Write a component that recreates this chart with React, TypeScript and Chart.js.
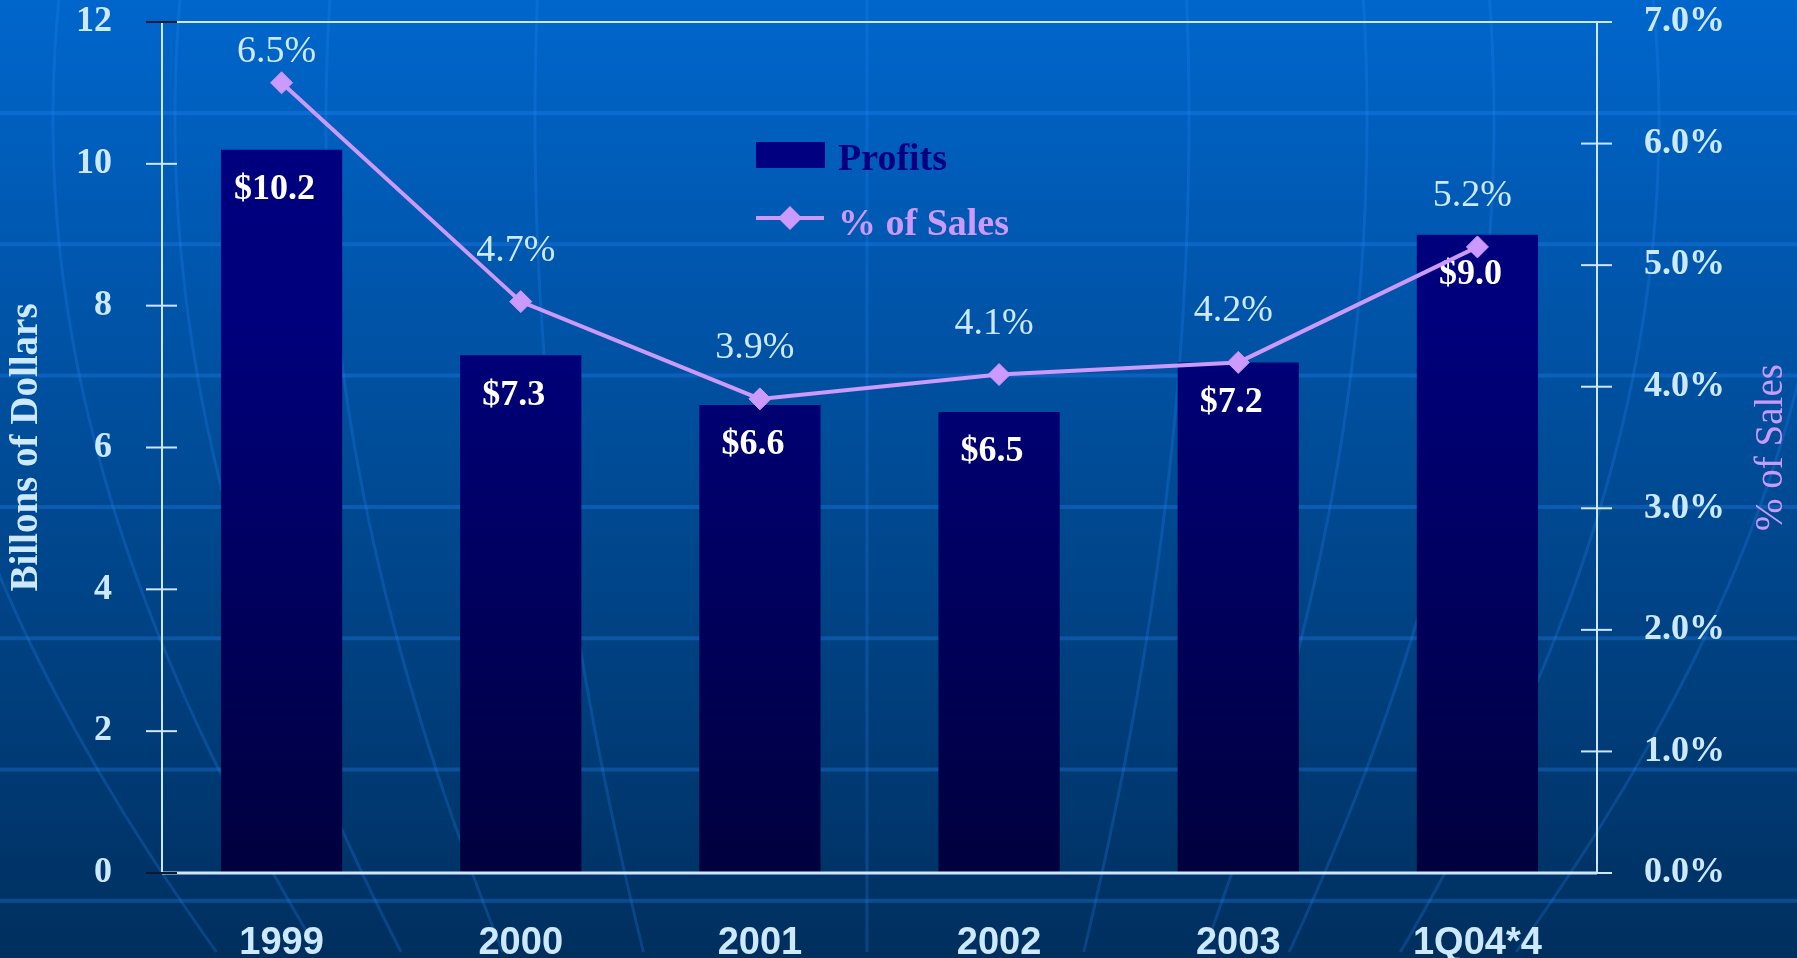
import { useEffect, useRef } from "react";
import { Chart, registerables } from "chart.js";

Chart.register(...registerables);

// ---- data ----
const categories = ["1999", "2000", "2001", "2002", "2003", "1Q04*4"];
const profits = [10.2, 7.3, 6.6, 6.5, 7.2, 9.0];
const profitLabels = ["$10.2", "$7.3", "$6.6", "$6.5", "$7.2", "$9.0"];
const pctOfSales = [6.5, 4.7, 3.9, 4.1, 4.2, 5.15];
const pctLabels = ["6.5%", "4.7%", "3.9%", "4.1%", "4.2%", "5.2%"];
const leftAxis = { min: 0, max: 12, step: 2, title: "Billons of Dollars" };
const rightAxis = { min: 0, max: 7, step: 1, title: "% of Sales" };
const seriesNames = { bars: "Profits", line: "% of Sales" };

// ---- styles ----
const LIGHT = "#CCE9FF";
const PURPLE = "#CC99FF";
const NAVY = "#000080";
const SERIF = '"Liberation Serif", "Times New Roman", serif';
const SANS = '"Liberation Sans", Arial, sans-serif';

const backgroundPlugin = {
  id: "slideBackground",
  beforeDraw(chart: any) {
    const { ctx, width, height } = chart;
    ctx.save();
    const g = ctx.createLinearGradient(0, 0, 0, height);
    g.addColorStop(0, "#0066CC");
    g.addColorStop(1, "#002F5E");
    ctx.fillStyle = g;
    ctx.fillRect(0, 0, width, height);
    // horizontal bands
    ctx.strokeStyle = "rgba(40,140,255,0.28)";
    ctx.lineWidth = 4;
    for (let y = 113; y < height; y += 131.3) {
      ctx.beginPath();
      ctx.moveTo(0, y);
      ctx.lineTo(width, y);
      ctx.stroke();
    }
    // globe meridians
    const x0 = 867;
    const spreads = [-966, -814, -692, -541, -332, 0, 322, 500, 627, 792, 964];
    ctx.strokeStyle = "rgba(40,140,255,0.22)";
    ctx.lineWidth = 3;
    spreads.forEach((s) => {
      ctx.beginPath();
      for (let y = 0; y <= height; y += 8) {
        const x = x0 + s * Math.cos((y - 120) / 1000);
        if (y === 0) ctx.moveTo(x, y);
        else ctx.lineTo(x, y);
      }
      ctx.stroke();
    });
    ctx.restore();
  },
};

function line(ctx: any, x1: number, y1: number, x2: number, y2: number) {
  ctx.beginPath();
  ctx.moveTo(x1, y1);
  ctx.lineTo(x2, y2);
  ctx.stroke();
}

const decorPlugin = {
  id: "decor",
  afterDatasetDraw(chart: any, args: any) {
    if (args.meta.type !== "bar") return;
    const { ctx, chartArea } = chart;
    const { left, right, top, bottom } = chartArea;
    ctx.save();
    // frame
    ctx.strokeStyle = "#CFE6FF";
    ctx.lineWidth = 2;
    line(ctx, left, top, left, bottom);
    line(ctx, right, top, right, bottom);
    line(ctx, left, top, right, top);
    ctx.lineWidth = 3;
    line(ctx, left, bottom, right, bottom);
    // ticks (crossing the axes)
    ctx.lineWidth = 2;
    const yL = chart.scales.y;
    yL.ticks.forEach((t: any) => {
      const y = yL.getPixelForValue(t.value);
      const isEnd = t.value === leftAxis.min || t.value === leftAxis.max;
      ctx.strokeStyle = isEnd ? "#0A1A33" : "#CFE6FF";
      line(ctx, left - 16, y, left + 15, y);
    });
    const yR = chart.scales.y1;
    yR.ticks.forEach((t: any) => {
      const y = yR.getPixelForValue(t.value);
      ctx.strokeStyle = "#CFE6FF";
      line(ctx, right - 16, y, right + 15, y);
    });
    // bar value labels
    ctx.fillStyle = "#FFFFFF";
    ctx.font = `bold 36px ${SERIF}`;
    ctx.textAlign = "center";
    ctx.textBaseline = "middle";
    args.meta.data.forEach((el: any, i: number) => {
      ctx.fillText(profitLabels[i], el.x - 7, el.y + 40);
    });
    ctx.restore();
  },
  afterDatasetsDraw(chart: any) {
    const { ctx, chartArea } = chart;
    const meta = chart.getDatasetMeta(0);
    ctx.save();
    ctx.fillStyle = LIGHT;
    ctx.font = `38px ${SERIF}`;
    ctx.textAlign = "center";
    ctx.textBaseline = "middle";
    meta.data.forEach((el: any, i: number) => {
      const y = Math.max(el.y - 51, chartArea.top + 30);
      ctx.fillText(pctLabels[i], el.x - 5, y);
    });
    ctx.restore();
  },
  afterDraw(chart: any) {
    const { ctx, chartArea } = chart;
    ctx.save();
    // right axis title, reading bottom-to-top
    ctx.translate(1772, (chartArea.top + chartArea.bottom) / 2);
    ctx.rotate(-Math.PI / 2);
    ctx.fillStyle = PURPLE;
    ctx.font = `39px ${SERIF}`;
    ctx.textAlign = "center";
    ctx.textBaseline = "middle";
    ctx.fillText(rightAxis.title, 0, 0);
    ctx.restore();

    // legend
    ctx.save();
    ctx.fillStyle = NAVY;
    ctx.fillRect(756, 142, 69, 26);
    ctx.font = `bold 38px ${SERIF}`;
    ctx.textAlign = "left";
    ctx.textBaseline = "alphabetic";
    ctx.fillText(seriesNames.bars, 838, 170);
    ctx.strokeStyle = PURPLE;
    ctx.lineWidth = 4;
    line(ctx, 756, 218, 824, 218);
    ctx.fillStyle = PURPLE;
    ctx.beginPath();
    ctx.moveTo(790, 206);
    ctx.lineTo(802, 218);
    ctx.lineTo(790, 230);
    ctx.lineTo(778, 218);
    ctx.closePath();
    ctx.fill();
    ctx.fillText(seriesNames.line, 838, 235);
    ctx.restore();
  },
};

export default function App() {
  const canvasRef = useRef<HTMLCanvasElement | null>(null);

  useEffect(() => {
    if (!canvasRef.current) return;
    const chart = new Chart(canvasRef.current, {
      type: "bar",
      data: {
        labels: categories,
        datasets: [
          {
            type: "line",
            label: seriesNames.line,
            data: pctOfSales,
            yAxisID: "y1",
            borderColor: PURPLE,
            backgroundColor: PURPLE,
            borderWidth: 4,
            pointStyle: "rectRot",
            pointRadius: 11,
            pointBorderWidth: 1,
            pointBackgroundColor: PURPLE,
            pointBorderColor: PURPLE,
            tension: 0,
            order: 0,
          } as any,
          {
            type: "bar",
            label: seriesNames.bars,
            data: profits,
            yAxisID: "y",
            backgroundColor: (c: any) => {
              const area = c.chart.chartArea;
              if (!area) return NAVY;
              const g = c.chart.ctx.createLinearGradient(0, area.top, 0, area.bottom);
              g.addColorStop(0, "#000080");
              g.addColorStop(0.35, "#00007C");
              g.addColorStop(1, "#00003E");
              return g;
            },
            borderWidth: 0,
            categoryPercentage: 1,
            barPercentage: 0.507,
            order: 1,
          } as any,
        ],
      },
      options: {
        animation: false,
        responsive: false,
        devicePixelRatio: 1,
        layout: { padding: { top: 22, left: 0, right: 0, bottom: 0 } },
        plugins: {
          legend: { display: false },
          tooltip: { enabled: false },
        },
        scales: {
          x: {
            grid: { display: false },
            border: { display: false },
            ticks: {
              color: LIGHT,
              font: { family: SANS, size: 38, weight: "bold" },
              padding: 40,
              maxRotation: 0,
              autoSkip: false,
            },
            afterFit: (s: any) => {
              s.height = 85;
              s.paddingLeft = 0;
              s.paddingRight = 0;
            },
          },
          y: {
            position: "left",
            min: leftAxis.min,
            max: leftAxis.max,
            grid: { display: false },
            border: { display: false },
            ticks: {
              stepSize: leftAxis.step,
              color: LIGHT,
              font: { family: SERIF, size: 36, weight: "bold" },
              padding: 42,
            },
            title: {
              display: true,
              text: leftAxis.title,
              color: LIGHT,
              font: { family: SERIF, size: 39, weight: "bold" },
              padding: { top: 4, bottom: 0 },
            },
            afterFit: (s: any) => {
              s.width = 162;
              s.paddingTop = 0;
              s.paddingBottom = 0;
            },
          },
          y1: {
            position: "right",
            min: rightAxis.min,
            max: rightAxis.max,
            grid: { display: false },
            border: { display: false },
            ticks: {
              stepSize: rightAxis.step,
              color: LIGHT,
              font: { family: SERIF, size: 36, weight: "bold" },
              padding: 39,
              callback: (v: any) => Number(v).toFixed(1) + "%",
            },
            afterFit: (s: any) => {
              s.width = 200;
              s.paddingTop = 0;
              s.paddingBottom = 0;
            },
          },
        },
      } as any,
      plugins: [backgroundPlugin, decorPlugin],
    });
    return () => chart.destroy();
  }, []);

  return (
    <div style={{ position: "fixed", left: 0, top: 0, width: 1797, height: 958 }}>
      <canvas ref={canvasRef} width={1797} height={958} style={{ display: "block" }} />
    </div>
  );
}
